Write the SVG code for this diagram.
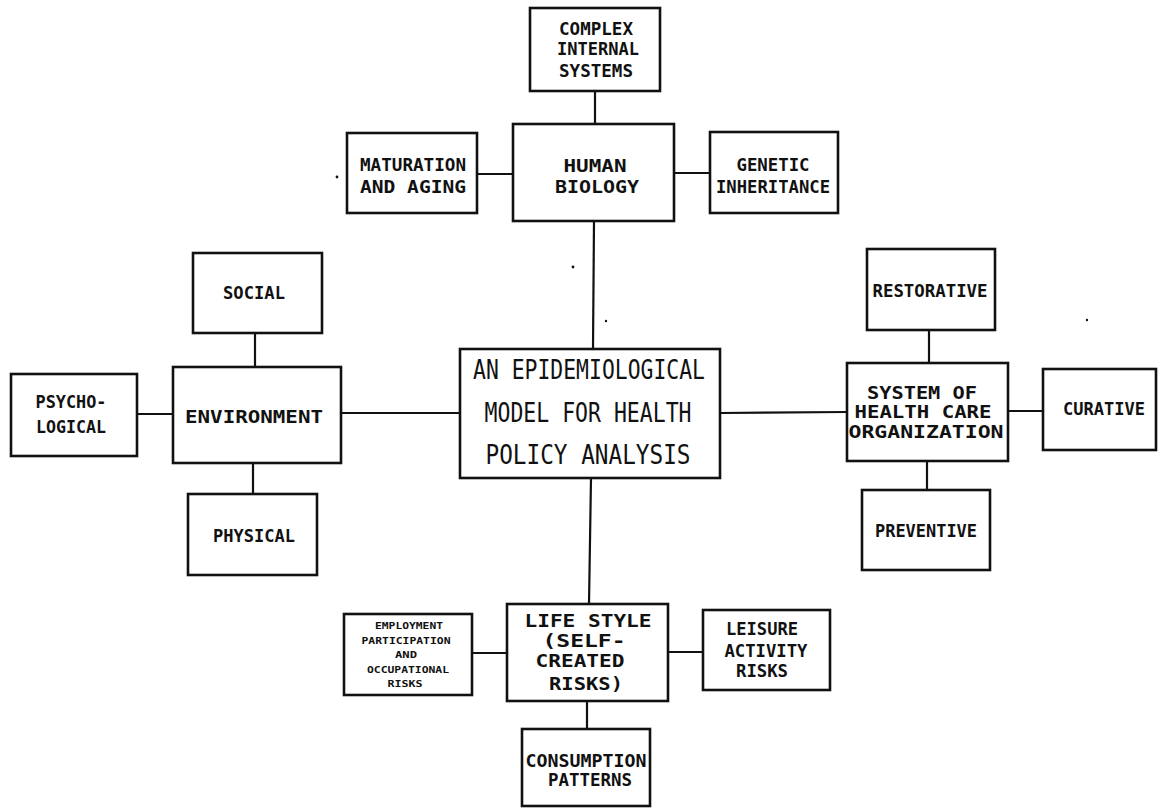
<svg xmlns="http://www.w3.org/2000/svg" width="1160" height="808" viewBox="0 0 1160 808">
<style>
  .box { fill: #ffffff; stroke: #111111; stroke-width: 2.6; }
  .ln { stroke: #111111; stroke-width: 2.2; fill: none; }
  text { font-family: "DejaVu Sans Mono", "Liberation Mono", monospace; fill: #111111; text-anchor: middle; font-size: 18px; font-weight: bold; }
  .big { font-size: 26px; font-weight: normal; }
  .tiny { font-size: 9px; font-weight: bold; }
  .dot { fill: #111111; }
</style>
<rect x="0" y="0" width="1160" height="808" fill="#ffffff"/>
<g id="connectors">
  <line class="ln" x1="595" y1="91" x2="595" y2="124"/>
  <line class="ln" x1="477" y1="174" x2="513" y2="174"/>
  <line class="ln" x1="674" y1="173" x2="710" y2="173"/>
  <line class="ln" x1="594" y1="221" x2="593" y2="349"/>
  <line class="ln" x1="255" y1="333" x2="255" y2="367"/>
  <line class="ln" x1="137" y1="414" x2="173" y2="414"/>
  <line class="ln" x1="253" y1="463" x2="253" y2="494"/>
  <line class="ln" x1="341" y1="413" x2="460" y2="413"/>
  <line class="ln" x1="720" y1="413" x2="847" y2="412"/>
  <line class="ln" x1="929" y1="330" x2="929" y2="363"/>
  <line class="ln" x1="1008" y1="411" x2="1043" y2="411"/>
  <line class="ln" x1="927" y1="461" x2="927" y2="490"/>
  <line class="ln" x1="591" y1="478" x2="589" y2="604"/>
  <line class="ln" x1="472" y1="653" x2="507" y2="653"/>
  <line class="ln" x1="668" y1="652" x2="703" y2="652"/>
  <line class="ln" x1="587" y1="701" x2="587" y2="729"/>
</g>
<g id="complex-internal-systems">
  <rect class="box" x="530" y="8" width="130" height="83"/>
  <text x="596" y="35" textLength="74" lengthAdjust="spacingAndGlyphs">COMPLEX</text>
  <text x="598" y="55" textLength="82" lengthAdjust="spacingAndGlyphs">INTERNAL</text>
  <text x="596" y="77" textLength="74" lengthAdjust="spacingAndGlyphs">SYSTEMS</text>
</g>
<g id="human-biology">
  <rect class="box" x="513" y="124" width="161" height="97"/>
  <text x="595" y="172" textLength="63" lengthAdjust="spacingAndGlyphs">HUMAN</text>
  <text x="597" y="193" textLength="84" lengthAdjust="spacingAndGlyphs">BIOLOGY</text>
</g>
<g id="maturation-and-aging">
  <rect class="box" x="347" y="133" width="130" height="80"/>
  <text x="413" y="171" textLength="106" lengthAdjust="spacingAndGlyphs">MATURATION</text>
  <text x="413" y="193" textLength="106" lengthAdjust="spacingAndGlyphs">AND  AGING</text>
</g>
<g id="genetic-inheritance">
  <rect class="box" x="710" y="132" width="128" height="81"/>
  <text x="773" y="171" textLength="73" lengthAdjust="spacingAndGlyphs">GENETIC</text>
  <text x="773" y="193" textLength="114" lengthAdjust="spacingAndGlyphs">INHERITANCE</text>
</g>
<g id="social">
  <rect class="box" x="193" y="253" width="129" height="80"/>
  <text x="254" y="299" textLength="62" lengthAdjust="spacingAndGlyphs">SOCIAL</text>
</g>
<g id="psychological">
  <rect class="box" x="11" y="374" width="126" height="82"/>
  <text x="71" y="408" textLength="71" lengthAdjust="spacingAndGlyphs">PSYCHO-</text>
  <text x="71" y="433" textLength="70" lengthAdjust="spacingAndGlyphs">LOGICAL</text>
</g>
<g id="environment">
  <rect class="box" x="173" y="367" width="168" height="96"/>
  <text x="254" y="423" textLength="138" lengthAdjust="spacingAndGlyphs">ENVIRONMENT</text>
</g>
<g id="physical">
  <rect class="box" x="188" y="494" width="129" height="81"/>
  <text x="254" y="542" textLength="82" lengthAdjust="spacingAndGlyphs">PHYSICAL</text>
</g>
<g id="center-model">
  <rect class="box" x="460" y="349" width="260" height="129"/>
  <text class="big" x="589" y="379" textLength="232" lengthAdjust="spacingAndGlyphs">AN EPIDEMIOLOGICAL</text>
  <text class="big" x="588" y="422" textLength="207" lengthAdjust="spacingAndGlyphs">MODEL FOR HEALTH</text>
  <text class="big" x="588" y="464" textLength="205" lengthAdjust="spacingAndGlyphs">POLICY  ANALYSIS</text>
</g>
<g id="restorative">
  <rect class="box" x="867" y="249" width="128" height="81"/>
  <text x="930" y="297" textLength="115" lengthAdjust="spacingAndGlyphs">RESTORATIVE</text>
</g>
<g id="system-of-health-care">
  <rect class="box" x="847" y="363" width="161" height="98"/>
  <text x="922" y="399" textLength="110" lengthAdjust="spacingAndGlyphs">SYSTEM OF</text>
  <text x="923" y="418" textLength="137" lengthAdjust="spacingAndGlyphs">HEALTH CARE</text>
  <text x="926" y="438" textLength="155" lengthAdjust="spacingAndGlyphs">ORGANIZATION</text>
</g>
<g id="curative">
  <rect class="box" x="1043" y="369" width="113" height="81"/>
  <text x="1104" y="415" textLength="82" lengthAdjust="spacingAndGlyphs">CURATIVE</text>
</g>
<g id="preventive">
  <rect class="box" x="862" y="490" width="128" height="80"/>
  <text x="926" y="537" textLength="102" lengthAdjust="spacingAndGlyphs">PREVENTIVE</text>
</g>
<g id="life-style">
  <rect class="box" x="507" y="604" width="161" height="97"/>
  <text x="588" y="627" textLength="127" lengthAdjust="spacingAndGlyphs">LIFE STYLE</text>
  <text x="584" y="647" textLength="83" lengthAdjust="spacingAndGlyphs">(SELF-</text>
  <text x="580" y="667" textLength="89" lengthAdjust="spacingAndGlyphs">CREATED</text>
  <text x="586" y="690" textLength="74" lengthAdjust="spacingAndGlyphs">RISKS)</text>
</g>
<g id="employment">
  <rect class="box" x="344" y="614" width="128" height="81"/>
  <text class="tiny" x="409" y="629" textLength="68" lengthAdjust="spacingAndGlyphs">EMPLOYMENT</text>
  <text class="tiny" x="406" y="644" textLength="89" lengthAdjust="spacingAndGlyphs">PARTICIPATION</text>
  <text class="tiny" x="406" y="658" textLength="22" lengthAdjust="spacingAndGlyphs">AND</text>
  <text class="tiny" x="408" y="673" textLength="82" lengthAdjust="spacingAndGlyphs">OCCUPATIONAL</text>
  <text class="tiny" x="405" y="687" textLength="35" lengthAdjust="spacingAndGlyphs">RISKS</text>
</g>
<g id="leisure-activity-risks">
  <rect class="box" x="703" y="610" width="127" height="80"/>
  <text x="762" y="635" textLength="72" lengthAdjust="spacingAndGlyphs">LEISURE</text>
  <text x="766" y="657" textLength="83" lengthAdjust="spacingAndGlyphs">ACTIVITY</text>
  <text x="762" y="677" textLength="52" lengthAdjust="spacingAndGlyphs">RISKS</text>
</g>
<g id="consumption-patterns">
  <rect class="box" x="522" y="729" width="128" height="77"/>
  <text x="586" y="767" textLength="121" lengthAdjust="spacingAndGlyphs">CONSUMPTION</text>
  <text x="590" y="786" textLength="84" lengthAdjust="spacingAndGlyphs">PATTERNS</text>
</g>
<g id="specks">
  <circle class="dot" cx="337" cy="177" r="1.4"/>
  <circle class="dot" cx="573" cy="267" r="1.4"/>
  <circle class="dot" cx="606" cy="321" r="1.2"/>
  <circle class="dot" cx="1087" cy="320" r="1.2"/>
</g>
</svg>
